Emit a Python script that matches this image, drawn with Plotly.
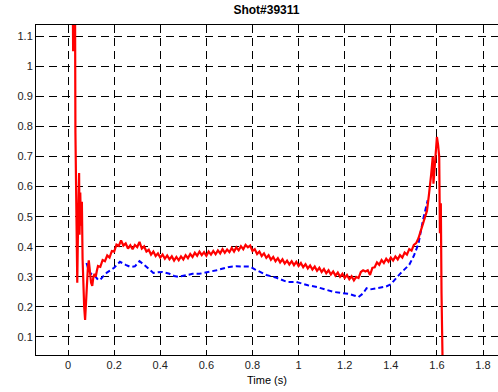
import numpy as np
import plotly.graph_objects as go

# ---- data ----
red_t_start = [0.018, 0.02, 0.022, 0.024, 0.026, 0.028, 0.03, 0.032, 0.035, 0.038,
               0.04, 0.043, 0.046, 0.048, 0.05, 0.053, 0.056, 0.06, 0.063, 0.066,
               0.07, 0.074, 0.078, 0.082, 0.086, 0.09, 0.095, 0.1, 0.105, 0.11,
               0.115, 0.12, 0.125]
red_v_start = [1.3, 1.3, 1.05, 1.3, 1.07, 1.3, 1.3, 0.78, 0.62, 0.32,
               0.28, 0.45, 0.6, 0.645, 0.44, 0.58, 0.47, 0.55, 0.36, 0.27,
               0.2, 0.157, 0.23, 0.3, 0.33, 0.355, 0.31, 0.28, 0.27, 0.3,
               0.31, 0.3, 0.32]

# red signal sampled every 0.01 s from 0.13 s to 1.50 s
red_mid_t0 = 0.13
red_mid_dt = 0.01
red_v_mid = [
    0.336, 0.333, 0.356, 0.352, 0.371, 0.364, 0.386, 0.384, 0.407, 0.403,
    0.421, 0.404, 0.411, 0.394, 0.405, 0.392, 0.406, 0.399, 0.416, 0.394,
    0.401, 0.384, 0.390, 0.374, 0.384, 0.369, 0.378, 0.364, 0.374, 0.360,
    0.371, 0.358, 0.368, 0.354, 0.366, 0.355, 0.368, 0.358, 0.372, 0.362,
    0.376, 0.366, 0.380, 0.370, 0.384, 0.372, 0.382, 0.370, 0.384, 0.374,
    0.386, 0.375, 0.388, 0.378, 0.392, 0.380, 0.391, 0.382, 0.396, 0.384,
    0.398, 0.388, 0.402, 0.392, 0.406, 0.398, 0.404, 0.386, 0.392, 0.376,
    0.384, 0.369, 0.378, 0.363, 0.372, 0.357, 0.366, 0.352, 0.362, 0.348,
    0.358, 0.344, 0.354, 0.341, 0.352, 0.339, 0.350, 0.336, 0.346, 0.332,
    0.342, 0.328, 0.338, 0.324, 0.334, 0.320, 0.330, 0.316, 0.326, 0.312,
    0.322, 0.308, 0.318, 0.304, 0.314, 0.300, 0.310, 0.296, 0.306, 0.292,
    0.302, 0.288, 0.300, 0.296, 0.316, 0.322, 0.318, 0.322, 0.306, 0.330,
    0.332, 0.348, 0.340, 0.356, 0.346, 0.360, 0.350, 0.364, 0.354, 0.368,
    0.358, 0.372, 0.364, 0.381, 0.374, 0.392, 0.387, 0.406,
]

red_t_end = [1.51, 1.52, 1.53, 1.54, 1.55, 1.557, 1.565, 1.57, 1.575, 1.582,
             1.585, 1.59, 1.595, 1.6, 1.605, 1.61, 1.613, 1.617, 1.62, 1.625]
red_v_end = [0.412, 0.428, 0.455, 0.48, 0.505, 0.52, 0.57, 0.60, 0.64, 0.70,
             0.61, 0.66, 0.73, 0.765, 0.74, 0.70, 0.445, 0.545, 0.246, 0.0]

blue_t = [0.08, 0.09, 0.10, 0.11, 0.12, 0.13, 0.14, 0.15, 0.17, 0.20,
          0.225, 0.25, 0.27, 0.29, 0.31, 0.33, 0.35, 0.37, 0.39, 0.41,
          0.44, 0.46, 0.48, 0.51, 0.54, 0.57, 0.60, 0.62, 0.645, 0.67,
          0.70, 0.73, 0.76, 0.79, 0.81, 0.84, 0.86, 0.90, 0.93, 0.95,
          0.99, 1.02, 1.04, 1.08, 1.12, 1.15, 1.19, 1.22, 1.24, 1.26,
          1.28, 1.295, 1.31, 1.35, 1.38, 1.40, 1.44, 1.48, 1.50, 1.52,
          1.54, 1.56]
blue_v = [0.346, 0.32, 0.31, 0.305, 0.30, 0.29, 0.29, 0.30, 0.315, 0.33,
          0.35, 0.34, 0.333, 0.335, 0.352, 0.34, 0.325, 0.313, 0.315, 0.316,
          0.31, 0.303, 0.30, 0.305, 0.31, 0.31, 0.316, 0.318, 0.322, 0.328,
          0.333, 0.335, 0.334, 0.334, 0.325, 0.312, 0.306, 0.298, 0.29, 0.283,
          0.283, 0.275, 0.272, 0.266, 0.256, 0.25, 0.246, 0.243, 0.238, 0.233,
          0.245, 0.262, 0.258, 0.263, 0.268, 0.275, 0.31, 0.34, 0.37, 0.41,
          0.49, 0.555]

x_ticks = [0, 0.2, 0.4, 0.6, 0.8, 1, 1.2, 1.4, 1.6, 1.8]
y_ticks = [0.1, 0.2, 0.3, 0.4, 0.5, 0.6, 0.7, 0.8, 0.9, 1, 1.1]

# ---- assemble ----
red_t_mid = list(np.round(red_mid_t0 + red_mid_dt * np.arange(len(red_v_mid)), 4))
red_t = red_t_start + red_t_mid + red_t_end
red_v = red_v_start + red_v_mid + red_v_end

fig = go.Figure()
fig.add_trace(go.Scatter(x=blue_t, y=blue_v, mode="lines",
                         line=dict(color="#0000ff", width=2, dash="5px,3px"),
                         hoverinfo="skip"))
fig.add_trace(go.Scatter(x=red_t, y=red_v, mode="lines",
                         line=dict(color="#ff0000", width=2.2),
                         hoverinfo="skip"))

grid = dict(showgrid=True, gridcolor="black", gridwidth=1, griddash="8px,5px",
            zeroline=False, showline=True, linecolor="black", linewidth=1,
            ticks="inside", ticklen=4, tickcolor="black",
            tickfont=dict(size=11, color="#222"))

fig.update_layout(
    width=498, height=392,
    margin=dict(l=36, r=0, t=25, b=37),
    paper_bgcolor="white", plot_bgcolor="white",
    showlegend=False,
    font=dict(family="Liberation Sans, Arial, sans-serif", size=11, color="black"),
    title=dict(text="<b>Shot#39311</b>", x=0.535, xanchor="center",
               y=0.974, yanchor="middle", font=dict(size=12, color="black")),
    xaxis=dict(range=[-0.139, 1.865], tickvals=x_ticks, mirror="ticks",
               title=dict(text="Time (s)", standoff=6, font=dict(size=11)), **grid),
    yaxis=dict(range=[0.04, 1.1375], tickvals=y_ticks, mirror=False, **grid),
)

fig.write_html("out.html")
